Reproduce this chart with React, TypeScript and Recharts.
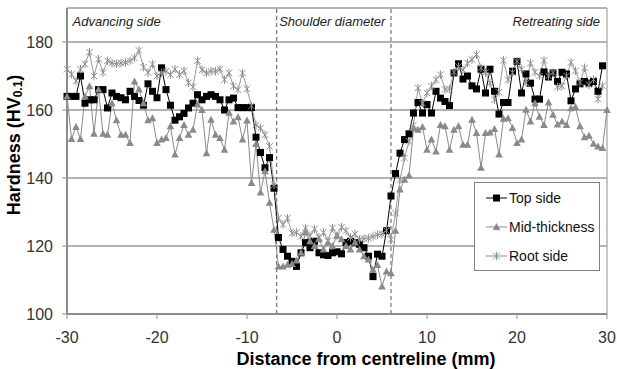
import {
  LineChart,
  Line,
  XAxis,
  YAxis,
  CartesianGrid,
  ReferenceLine,
  Legend,
} from "recharts";

const FONT = "'Liberation Sans', Arial, sans-serif";

// distance from centreline (mm)
const distance = [
  -30, -29.5, -29, -28.5, -28, -27.5, -27, -26.5, -26, -25.5,
  -25, -24.5, -24, -23.5, -23, -22.5, -22, -21.5, -21, -20.5,
  -20, -19.5, -19, -18.5, -18, -17.5, -17, -16.5, -16, -15.5,
  -15, -14.5, -14, -13.5, -13, -12.5, -12, -11.5, -11, -10.5,
  -10, -9.5, -9, -8.5, -8, -7.5, -7, -6.5, -6, -5.5,
  -5, -4.5, -4, -3.5, -3, -2.5, -2, -1.5, -1, -0.5,
  0, 0.5, 1, 1.5, 2, 2.5, 3, 3.5, 4, 4.5,
  5, 5.5, 6, 6.5, 7, 7.5, 8, 8.5, 9, 9.5,
  10, 10.5, 11, 11.5, 12, 12.5, 13, 13.5, 14, 14.5,
  15, 15.5, 16, 16.5, 17, 17.5, 18, 18.5, 19, 19.5,
  20, 20.5, 21, 21.5, 22, 22.5, 23, 23.5, 24, 24.5,
  25, 25.5, 26, 26.5, 27, 27.5, 28, 28.5, 29, 29.5,
  30,
];

const topSide = [
  164, 164, 164, 170, 162, 163, 163, 166, 166, 160.6,
  165, 164, 163.6, 163, 165.5, 164, 162.8, 161.4, 167.7, 165.5,
  163.6, 172.4, 166, 161.4, 157, 158, 159, 160.6, 162, 164.5,
  163, 164, 164.5, 164, 163, 160, 163, 163.5, 160.7, 160.7,
  160.7, 160.7, 152, 147.5, 143, 146, 137, 122.5, 119, 117,
  115.5, 114, 118, 121, 119.5, 121.4, 118, 117.4, 117.2, 118,
  118.3, 117.7, 121, 121.4, 121, 120.5, 119.5, 117, 111, 117.6,
  117, 124.5, 134.7, 141.3, 147.3, 151.3, 153, 159.1, 162.2, 159.1,
  161.6, 159.1, 165.5, 163.5, 162.5, 161.3, 170.9, 173.6, 169.1, 170,
  167.1, 166.2, 172, 165, 172, 165.5, 158.8, 162.2, 162.2, 171.4,
  174.3, 165, 170.6, 167.9, 163.2, 163.2, 171.2, 169.7, 170.9, 168.4,
  171.1, 170.6, 162.7, 166.2, 167.7, 168.4, 167.9, 168.4, 165.5, 173,
  null,
];

const midThickness = [
  164, 151.5, 155, 151.5, 164, 167, 153, 166, 153, 152.7,
  162, 157, 152.7, 152.7, 150.3, 168.4, 166, 162, 157, 157.6,
  150.3, 151.3, 151.8, 155.2, 146.9, 151.8, 155.6, 152.7, 154.2, 161.6,
  160, 147.3, 157.1, 152.7, 151.8, 148.3, 159.2, 156.6, 157.9, 151.3,
  156.9, 138.5, 150, 135.7, 142, 132.7, 124.8, 114, 114, 114.5,
  114.7, 115.7, 118, 124, 121.4, 120, 122, 119, 121, 120,
  123, 122, 120, 119, 121, 119, 117, 116, 113, 114.4,
  108.1, 112.5, 112, 124.5, 136.6, 139.5, 140.7, 154.7, 154.2, 155,
  148.3, 151.3, 147.8, 155.6, 155.2, 148.3, 154.2, 155.2, 149.8, 149.8,
  157.1, 153.2, 143, 153.2, 153.4, 154.4, 146.9, 157.4, 157.6, 154.7,
  150.3, 151.3, 160.1, 156.6, 162, 158, 155.6, 162.2, 158.6, 155.7,
  156.6, 155.6, 160.5, 160.9, 155.2, 152, 152.4, 150.1, 149.3, 148.8,
  160,
];

const rootSide = [
  172, 170.5, 168.5, 172, 173.5, 177, 170, 175, 171, 174.5,
  173.8, 173.6, 173.8, 174, 174.5, 175.3, 177.5, 172.6, 171, 173.5,
  170, 170.9, 171.4, 170.4, 172, 170.4, 171.5, 168, 166.8, 174.5,
  171.8, 170.9, 171.4, 171.4, 172, 168.9, 170.9, 167, 166, 170.9,
  166.2, 161.2, 155.6, 154.7, 152.7, 149.3, 138, 128.2, 126.3, 128.2,
  123.8, 124, 122.8, 125.3, 123, 125, 122.5, 124, 121.5, 125.3,
  123, 125.5, 124.5, 122.5, 123.5, 121.9, 122.2, 122.3, 122.8, 123.3,
  123.5, 124.5, 121.9, 129.7, 139.5, 145.9, 150.8, 155.6, 166.5, 162,
  165, 167, 168.9, 170.4, 166, 166.2, 171.1, 172.8, 171.8, 173.8,
  174.8, 176.3, 172.4, 171, 167.9, 163, 165.2, 174.6, 168.9, 171,
  174.3, 172, 168, 173.8, 171.1, 170, 174.6, 170, 171, 166.8,
  167, 170, 174, 171.5, 168.1, 172.4, 167.4, 169, 163.2, 167.1,
  null,
];

const xTicks = [-30, -20, -10, 0, 10, 20, 30];
const yTicks = [100, 120, 140, 160, 180];
const shoulderEdges = [-6.7, 6];

const data = distance.map((x, i) => ({
  x,
  top: topSide[i],
  mid: midThickness[i],
  root: rootSide[i],
}));

// markers
const SquareDot = (p: any) => {
  const { cx, cy, index } = p;
  if (cx == null || cy == null || p.value == null) return <g key={`s-${index}`} />;
  return <rect key={`s-${index}`} x={cx - 3.5} y={cy - 3.5} width={7} height={7} fill="#000" />;
};

const TriangleDot = (p: any) => {
  const { cx, cy, index } = p;
  if (cx == null || cy == null || p.value == null) return <g key={`t-${index}`} />;
  return (
    <polygon
      key={`t-${index}`}
      points={`${cx},${cy - 4} ${cx - 3.8},${cy + 3} ${cx + 3.8},${cy + 3}`}
      fill="#8a8a8a"
    />
  );
};

const StarDot = (p: any) => {
  const { cx, cy, index } = p;
  if (cx == null || cy == null || p.value == null) return <g key={`r-${index}`} />;
  const r = 3.2;
  return (
    <g key={`r-${index}`} stroke="#8f8f8f" strokeWidth={1}>
      <line x1={cx - r} y1={cy - r} x2={cx + r} y2={cy + r} />
      <line x1={cx - r} y1={cy + r} x2={cx + r} y2={cy - r} />
      <line x1={cx} y1={cy - r - 1} x2={cx} y2={cy + r + 1} />
    </g>
  );
};

const legendItems = [
  { name: "Top side", color: "#000", Dot: SquareDot },
  { name: "Mid-thickness", color: "#8a8a8a", Dot: TriangleDot },
  { name: "Root side", color: "#8f8f8f", Dot: StarDot },
];

const LegendBox = () => (
  <div
    style={{
      width: 126,
      height: 89,
      border: "1px solid #808080",
      background: "#fff",
      boxSizing: "border-box",
      fontFamily: FONT,
      fontSize: 14,
      color: "#111",
      whiteSpace: "nowrap",
    }}
  >
    {legendItems.map(({ name, color, Dot }) => (
      <div key={name} style={{ display: "flex", alignItems: "center", height: 29 }}>
        <svg width={25} height={14} style={{ marginLeft: 9, flex: "none" }}>
          <line x1={2} y1={7} x2={23} y2={7} stroke={color} strokeWidth={1} />
          <Dot cx={12.5} cy={7} value={1} index={0} />
        </svg>
        <span style={{ marginLeft: 0 }}>{name}</span>
      </div>
    ))}
  </div>
);

const zoneLabel = (text: string, anchor: "start" | "end", dx: number) => (props: any) => {
  const vb = props.viewBox || {};
  return (
    <text
      x={(vb.x ?? 0) + dx}
      y={(vb.y ?? 0) + 18}
      textAnchor={anchor}
      fontStyle="italic"
      fontSize={13}
      fontFamily={FONT}
      fill="#222"
    >
      {text}
    </text>
  );
};

const YTitle = () => (
  <text
    x={14}
    y={145}
    transform="rotate(-90 14 145)"
    textAnchor="middle"
    dominantBaseline="central"
    fontSize={18}
    fontWeight="bold"
    fontFamily={FONT}
    fill="#000"
  >
    Hardness (HV
    <tspan fontSize={12} dy={4}>0.1</tspan>
    <tspan dy={-4}>)</tspan>
  </text>
);

const XTitle = () => (
  <text
    x={366}
    y={365}
    textAnchor="middle"
    fontSize={18}
    fontWeight="bold"
    fontFamily={FONT}
    fill="#000"
  >
    Distance from centreline (mm)
  </text>
);

export default function App() {
  return (
    <div
      style={{
        position: "absolute",
        left: 0,
        top: 0,
        width: 617,
        height: 369,
        background: "#fff",
        overflow: "hidden",
      }}
    >
      <LineChart
        width={617}
        height={369}
        data={data}
        margin={{ top: 8, right: 10, bottom: 0, left: 0 }}
      >
        <CartesianGrid vertical={false} stroke="#9a9a9a" strokeWidth={1.5} />
        <XAxis
          type="number"
          dataKey="x"
          domain={[-30, 30]}
          ticks={xTicks}
          interval={0}
          height={55}
          tick={{ fill: "#333", fontSize: 16, fontFamily: FONT }}
          tickSize={5}
          tickMargin={13}
          tickLine={{ stroke: "#8c8c8c" }}
          axisLine={{ stroke: "#8c8c8c", strokeWidth: 2 }}
          label={{ content: () => <XTitle /> }}
        />
        <YAxis
          type="number"
          domain={[100, 190]}
          ticks={yTicks}
          interval={0}
          width={67}
          tick={{ fill: "#333", fontSize: 16, fontFamily: FONT }}
          tickSize={5}
          tickMargin={9}
          tickLine={{ stroke: "#8c8c8c" }}
          axisLine={{ stroke: "#8c8c8c", strokeWidth: 2 }}
          label={{ content: () => <YTitle /> }}
        />
        <ReferenceLine y={190} stroke="#b4b4b4" strokeWidth={1.5} />
        <ReferenceLine
          x={30}
          stroke="#b4b4b4"
          strokeWidth={1.5}
          label={zoneLabel("Retreating side", "end", -7)}
        />
        <ReferenceLine
          x={-30}
          stroke="none"
          label={zoneLabel("Advancing side", "start", 5.5)}
        />
        <ReferenceLine
          x={shoulderEdges[0]}
          stroke="#555"
          strokeDasharray="4 3"
          label={zoneLabel("Shoulder diameter", "start", 2.5)}
        />
        <ReferenceLine x={shoulderEdges[1]} stroke="#555" strokeDasharray="4 3" />
        <Line
          dataKey="top"
          stroke="#000"
          strokeWidth={1}
          dot={SquareDot}
          activeDot={false}
          isAnimationActive={false}
        />
        <Line
          dataKey="mid"
          stroke="#8a8a8a"
          strokeWidth={1}
          dot={TriangleDot}
          activeDot={false}
          isAnimationActive={false}
        />
        <Line
          dataKey="root"
          stroke="#9a9a9a"
          strokeWidth={1}
          dot={StarDot}
          activeDot={false}
          isAnimationActive={false}
        />
        <Legend
          layout="vertical"
          align="center"
          verticalAlign="middle"
          content={() => <LegendBox />}
          wrapperStyle={{ left: 474, top: 182, width: 126 }}
        />
      </LineChart>
    </div>
  );
}
